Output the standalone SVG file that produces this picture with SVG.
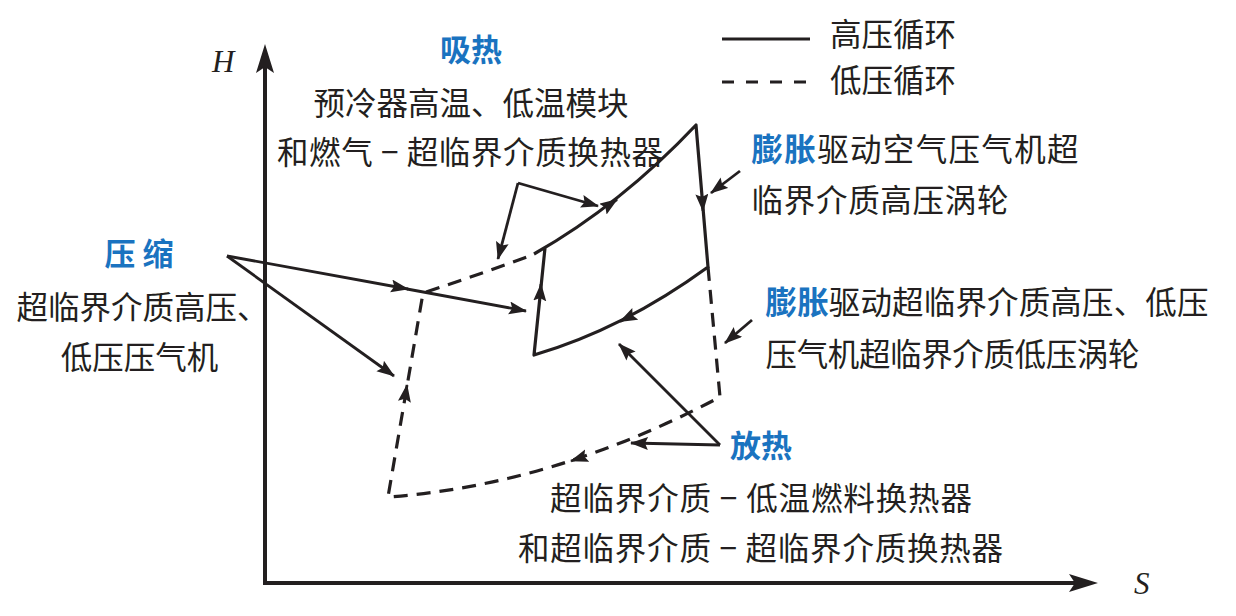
<svg xmlns="http://www.w3.org/2000/svg" width="1236" height="616" viewBox="0 0 1236 616">
<style>
.t{font-family:"Noto Sans CJK SC","Noto Sans CJK JP",sans-serif;font-size:31.5px;fill:#231f20}
.b{font-family:"Noto Sans CJK SC","Noto Sans CJK JP",sans-serif;font-size:31px;font-weight:bold;fill:#1a73c0}
.it{font-family:"Liberation Serif",serif;font-style:italic;font-size:31px;fill:#231f20}
.ln{fill:none;stroke:#231f20;stroke-width:3.2;stroke-linejoin:round}
.ds{fill:none;stroke:#231f20;stroke-width:3.2;stroke-dasharray:14 9}
.ar{fill:none;stroke:#231f20;stroke-width:2.8;marker-end:url(#ah)}
.ax{fill:none;stroke:#231f20;stroke-width:4}
</style>
<defs>
<marker id="ah" markerUnits="userSpaceOnUse" markerWidth="20" markerHeight="14" refX="17" refY="6.5" orient="auto">
<path d="M0,0 L18,6.5 L0,13 L3,6.5 z" fill="#231f20"/>
</marker>
</defs>
<rect width="1236" height="616" fill="#fff"/>
<g id="axes">
<line class="ax" x1="265" y1="585" x2="265" y2="62"/>
<polygon points="265,44 274,73 265,67 256,73" fill="#231f20"/>
<line class="ax" x1="263" y1="583" x2="1080" y2="583"/>
<polygon points="1098,583 1069,574 1075,583 1069,592" fill="#231f20"/>
<text class="it" x="212" y="72">H</text>
<text class="it" x="1134" y="594">S</text>
</g>
<g id="legend">
<line class="ln" x1="722" y1="39" x2="810" y2="39"/>
<line class="ln" x1="722" y1="82" x2="810" y2="82" stroke-dasharray="12 12"/>
<text class="t" x="830" y="46">高压循环</text>
<text class="t" x="830" y="92">低压循环</text>
</g>
<g id="high-pressure-cycle">
<path class="ln" d="M534,254 Q621,204.5 696,125 L708,267 Q623,329 534,355 L545,248"/>
</g>
<g id="low-pressure-cycle">
<path class="ds" d="M708,267 L720,397 Q554,485 388,497 L423,293 Q478,275 532,255"/>
</g>
<g id="connectors">
<path class="ar" d="M606,207 L617,199.5"/>
<path class="ar" d="M702,196 L703,211"/>
<path class="ar" d="M632,315.5 L620,321.5"/>
<path class="ar" d="M540,298 L541,284"/>
<path class="ar" d="M405,398 L407,385"/>
<path class="ar" d="M583,457 L571,461"/>
<path class="ar" d="M227,256 L408,289"/>
<path class="ar" d="M407,289 L526,311"/>
<path class="ar" d="M227,256 L394,376"/>
<path class="ar" d="M518,183 L598,206"/>
<path class="ar" d="M518,183 L498,259"/>
<path class="ar" d="M740,171 L711,193"/>
<path class="ar" d="M752,320 L725,343"/>
<path class="ar" d="M720,445 L619,344"/>
<path class="ar" d="M720,445 L631,443"/>
</g>
<g id="label-absorb">
<text class="b" x="471" y="61" text-anchor="middle">吸热</text>
<text class="t" x="471" y="115" text-anchor="middle">预冷器高温、低温模块</text>
<text class="t" x="470" y="164" text-anchor="middle" textLength="386">和燃气 − 超临界介质换热器</text>
</g>
<g id="label-compress">
<text class="b" x="139" y="265" text-anchor="middle">压 缩</text>
<text class="t" x="16.5" y="319">超临界介质高压、</text>
<text class="t" x="139.5" y="369" text-anchor="middle">低压压气机</text>
</g>
<g id="label-expand-hp">
<text class="t" x="751.5" y="161" textLength="327"><tspan class="b" style="font-size:31.5px">膨胀</tspan>驱动空气压气机超</text>
<text class="t" x="751.5" y="212" textLength="257">临界介质高压涡轮</text>
</g>
<g id="label-expand-lp">
<text class="t" x="765.5" y="314" textLength="443"><tspan class="b" style="font-size:31.5px">膨胀</tspan>驱动超临界介质高压、低压</text>
<text class="t" x="765.5" y="366" textLength="374">压气机超临界介质低压涡轮</text>
</g>
<g id="label-release">
<text class="b" x="761" y="457" text-anchor="middle">放热</text>
<text class="t" x="761" y="510" text-anchor="middle" textLength="422">超临界介质 − 低温燃料换热器</text>
<text class="t" x="760.5" y="560" text-anchor="middle" textLength="485">和超临界介质 − 超临界介质换热器</text>
</g>
</svg>
